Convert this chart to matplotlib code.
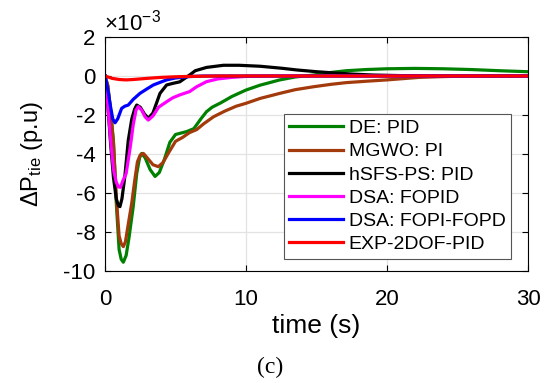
import matplotlib
matplotlib.use("Agg")
from matplotlib import pyplot as plt
import numpy as np

plt.rcParams["font.family"] = ["Liberation Sans", "DejaVu Sans"]
plt.rcParams["mathtext.default"] = "regular"
plt.rcParams["axes.unicode_minus"] = False

# values in units of 1e-3 p.u.
t_de = [0, 0.2, 0.4, 0.6, 0.8, 1.0, 1.15, 1.3, 1.5, 1.7, 2.0, 2.25, 2.45, 2.6, 2.85, 3.2, 3.55,
        3.85, 4.2, 4.6, 5.0, 5.8, 6.3, 6.8, 7.2, 7.6, 8.2, 9.0, 10, 11, 12.4, 13.5, 14.8, 16,
        17.1, 18.5, 20, 22, 24, 26, 28, 30]
y_de = [0, -0.5, -1.8, -3.4, -6.5, -8.9, -9.4, -9.55, -9.2, -8.3, -6.7, -5.0, -4.2, -3.97, -4.2,
        -4.8, -5.15, -4.95, -4.3, -3.4, -3.0, -2.85, -2.7, -2.2, -1.83, -1.6, -1.38, -1.05, -0.72,
        -0.47, -0.2, -0.05, 0.05, 0.18, 0.27, 0.33, 0.37, 0.39, 0.37, 0.33, 0.27, 0.22]

t_mgwo = [0, 0.2, 0.4, 0.6, 0.8, 1.0, 1.15, 1.3, 1.45, 1.65, 1.9, 2.1, 2.3, 2.5, 2.72, 3.0, 3.4,
          3.78, 4.1, 4.5, 5.0, 5.5, 6.0, 6.5, 7.0, 7.7, 8.5, 9.3, 10, 11, 12.4, 13.5, 14.8, 16,
          17.1, 18.5, 20, 22.3, 24, 26, 30]
y_mgwo = [0, -0.5, -1.8, -3.4, -6.2, -8.2, -8.6, -8.75, -8.5, -7.6, -6.5, -5.4, -4.4, -4.05,
          -3.97, -4.2, -4.55, -4.65, -4.45, -3.95, -3.35, -3.15, -2.9, -2.75, -2.45, -2.09, -1.8,
          -1.55, -1.4, -1.15, -0.89, -0.7, -0.55, -0.43, -0.34, -0.27, -0.2, -0.07, -0.03, 0, 0]

t_hsfs = [0, 0.2, 0.4, 0.6, 0.8, 0.95, 1.06, 1.2, 1.4, 1.65, 1.9, 2.1, 2.25, 2.5, 2.8, 3.07,
          3.4, 3.9, 4.37, 4.8, 5.3, 5.7, 6.0, 6.4, 7.2, 8.4, 9.5, 11, 12.5, 13.6, 15, 16, 17.5,
          19, 21, 25, 30]
y_hsfs = [0, -1.5, -3.5, -5.2, -6.3, -6.65, -6.7, -6.3, -5.2, -3.3, -2.2, -1.7, -1.49, -1.6,
          -1.95, -2.17, -1.9, -0.89, -0.46, -0.38, -0.3, -0.1, 0.05, 0.27, 0.44, 0.55, 0.55, 0.5,
          0.4, 0.31, 0.22, 0.17, 0.1, 0.05, 0.02, 0, 0]

t_fopid = [0, 0.2, 0.4, 0.6, 0.8, 0.95, 1.1, 1.25, 1.5, 1.8, 2.0, 2.2, 2.36, 2.6, 2.85, 3.07,
           3.4, 3.8, 4.37, 4.8, 5.3, 6.0, 6.5, 7.2, 8, 9, 10, 12, 30]
y_fopid = [0, -1.5, -3.3, -4.8, -5.45, -5.68, -5.71, -5.4, -5.0, -3.6, -2.5, -1.75, -1.57,
           -1.75, -2.1, -2.26, -2.05, -1.6, -1.32, -1.12, -0.97, -0.8, -0.55, -0.29, -0.15,
           -0.07, -0.02, 0, 0]

t_fopi = [0, 0.2, 0.4, 0.55, 0.71, 0.9, 1.18, 1.4, 1.65, 2.0, 2.48, 3.0, 3.43, 4.0, 4.37, 5.0,
          6.0, 7, 30]
y_fopi = [0, -0.7, -1.6, -2.2, -2.4, -2.2, -1.66, -1.55, -1.49, -1.2, -0.89, -0.65, -0.46,
          -0.3, -0.2, -0.1, -0.03, 0, 0]

t_exp = [0, 0.5, 1.0, 1.5, 2.0, 3.0, 4.0, 5.0, 6.0, 8.0, 30]
y_exp = [0, -0.12, -0.18, -0.2, -0.18, -0.12, -0.07, -0.04, -0.02, 0, 0]

series = [
    (t_de, y_de, "DE: PID", "#008000"),
    (t_mgwo, y_mgwo, "MGWO: PI", "#a33a0b"),
    (t_hsfs, y_hsfs, "hSFS-PS: PID", "black"),
    (t_fopid, y_fopid, "DSA: FOPID", "magenta"),
    (t_fopi, y_fopi, "DSA: FOPI-FOPD", "blue"),
    (t_exp, y_exp, "EXP-2DOF-PID", "red"),
]

fig = plt.figure(figsize=(5.49, 3.83), dpi=100)
ax = fig.add_axes([105 / 549, 1 - 271 / 383, 423 / 549, 234 / 383])

for t, y, lab, col in series:
    ax.plot(t, y, color=col, lw=2.3, label=lab)

ax.set_xlim(0, 30)
ax.set_ylim(-10, 2)
ax.set_xticks([0, 10, 20, 30])
ax.set_yticks([-10, -8, -6, -4, -2, 0, 2])
ax.tick_params(direction="in", labelsize=16, length=4, top=True, right=True)
ax.tick_params(axis="x", pad=13)
ax.tick_params(axis="y", pad=7)
ax.grid(True, color="#e3e3e3", lw=0.9)
ax.set_axisbelow(True)
for s in ax.spines.values():
    s.set_linewidth(0.8)

ax.set_xlabel("time (s)", fontsize=19, labelpad=3)
ax.set_ylabel(r"$\Delta$P$_{tie}$ (p.u)", fontsize=17, labelpad=13)
fig.text(104 / 549, 1 - 31 / 383, r"$\times$10$^{-3}$", fontsize=16, ha="left", va="baseline")

leg = ax.legend(loc="upper left", bbox_to_anchor=(284 / 549, 1 - 114 / 383),
                bbox_transform=fig.transFigure, borderaxespad=0, fontsize=14,
                handlelength=2.75, handletextpad=0.3, labelspacing=0.29, borderpad=0.28,
                fancybox=False, framealpha=1)
leg.get_frame().set_edgecolor("#555555")
leg.get_frame().set_linewidth(0.8)

fig.text(270 / 549, 1 - 367 / 383, "(c)", fontsize=17, family="Liberation Serif",
         ha="center", va="center")

fig.savefig("out.png", dpi=100)
